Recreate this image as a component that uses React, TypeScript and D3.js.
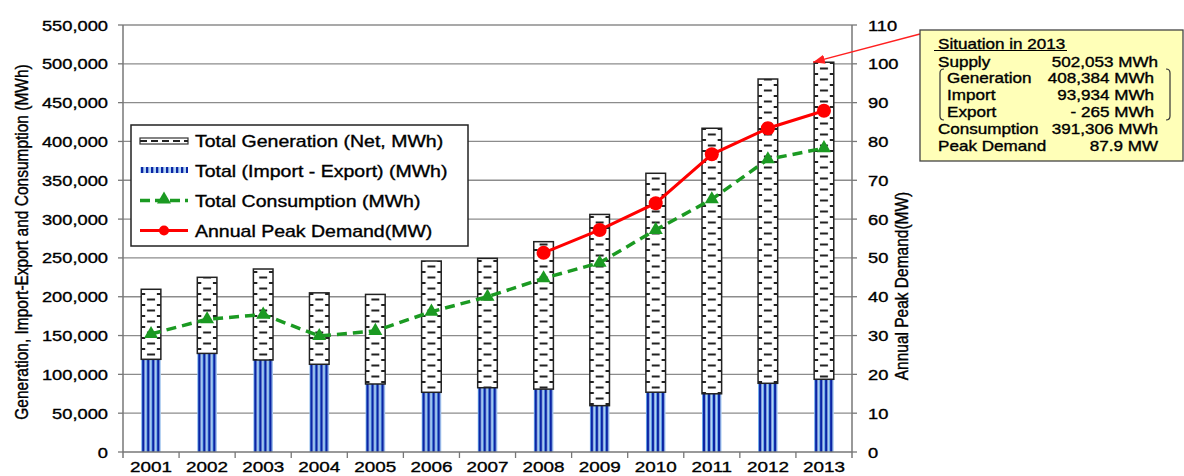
import React from 'react';
import * as d3 from 'd3';

const years = ['2001', '2002', '2003', '2004', '2005', '2006', '2007', '2008', '2009', '2010', '2011', '2012', '2013'];
const importExport = [119400, 127000, 118500, 113000, 87600, 76900, 82800, 81000, 59700, 77000, 75000, 88500, 93669];
const generation = [90200, 98000, 117200, 92000, 115400, 169100, 166600, 189900, 246300, 282000, 342000, 391900, 408384];
const consumption = [152000, 171000, 177000, 149400, 156000, 180700, 200000, 223700, 243800, 286000, 325500, 377000, 391306];
const peakYears = ['2008', '2009', '2010', '2011', '2012', '2013'];
const peakDemand = [51.3, 57.2, 64.1, 76.7, 83.4, 87.9];
const leftTicks = d3.range(0, 550001, 50000);
const rightTicks = d3.range(0, 111, 10);
const legendLabels = ['Total Generation (Net, MWh)', 'Total (Import - Export) (MWh)', 'Total Consumption (MWh)', 'Annual Peak Demand(MW)'];
const noteTitle = 'Situation in 2013';
const noteLabels = ['Supply', 'Generation', 'Import', 'Export', 'Consumption', 'Peak Demand'];
const noteValues = ['502,053 MWh', '408,384 MWh', '93,934 MWh', '- 265 MWh', '391,306 MWh', '87.9 MW'];
const noteIndented = [false, true, true, true, false, false];

const FONT = '"Liberation Sans", Arial, sans-serif';
const SX = 1.22;
const TS = 0.35;

const L = 123, R = 852, T = 25, B = 452;

const x = d3.scaleBand<string>().domain(years).range([L, R]).paddingInner(0.65).paddingOuter(0.325);
const step = x.step();
const y = d3.scaleLinear().domain([0, 550000]).range([B, T]);
const y2 = d3.scaleLinear().domain([0, 110]).range([B, T]);
const fmt = d3.format(',');

const ST = ({ tx, ty, size, anchor = 'start', children }: any) => (
  <text
    transform={`translate(${tx},${ty}) scale(${SX},1)`}
    fontSize={size}
    textAnchor={anchor}
    fontFamily={FONT}
    fill="#000"
    stroke="#000"
    strokeWidth={TS}
  >
    {children}
  </text>
);

export default function App() {
  const bw = x.bandwidth();
  const cx = (yr: string) => (x(yr) as number) + bw / 2;
  const totals = years.map((_, i) => importExport[i] + generation[i]);

  const consLine = d3.line<number>().x((_, i) => cx(years[i])).y((d) => y(d))(consumption) as string;
  const peakLine = d3.line<number>().x((_, i) => cx(peakYears[i])).y((d) => y2(d))(peakDemand) as string;

  const tri = d3.symbol().type(d3.symbolTriangle).size(85)() as string;

  const arrowEnd = { x: (x('2013') as number) - 1, y: y(totals[12]) };
  const boxX = 920, boxY = 30, boxW = 263, boxH = 131;

  const legX = 131, legY = 125, legW = 337, legH = 121;
  const legRows = [146.5, 177, 206.5, 236.5];
  const swX0 = 140, swX1 = 188;

  return (
    <svg width={1184} height={476} style={{ position: 'absolute', left: 0, top: 0, background: '#fff' }}>
      <defs>
        {years.map((yr, i) => (
          <pattern key={'g' + yr} id={'gen' + i} patternUnits="userSpaceOnUse" x={x(yr)} y={0} width={bw} height={11}>
            <rect width={bw} height={11} fill="#fff" />
            <rect x={bw / 2 - 4} y={1.5} width={8} height={2} fill="#222" />
            <rect x={0} y={7} width={4} height={2} fill="#222" />
            <rect x={bw - 4} y={7} width={4} height={2} fill="#222" />
          </pattern>
        ))}
        {years.map((yr, i) => (
          <pattern key={'b' + yr} id={'blu' + i} patternUnits="userSpaceOnUse" x={x(yr)} y={0} width={5} height={10}>
            <rect width={5} height={10} fill="#B5D6F5" />
            <rect x={0} width={0.9} height={10} fill="#5FA0E6" />
            <rect x={1} width={2.3} height={10} fill="#0B25A5" />
          </pattern>
        ))}
        <pattern id="bluLeg" patternUnits="userSpaceOnUse" x={swX0} y={0} width={5} height={10}>
          <rect width={5} height={10} fill="#B5D6F5" />
          <rect x={1} width={2.3} height={10} fill="#0B25A5" />
        </pattern>
        <marker id="arr" viewBox="0 0 10 10" refX={10} refY={5} markerWidth={9} markerHeight={9} orient="auto">
          <path d="M0,1 L10,5 L0,9 Z" fill="#ff2020" />
        </marker>
      </defs>

      {/* gridlines */}
      {leftTicks.filter((t) => t > 0).map((t) => (
        <line key={'gl' + t} x1={L} x2={R} y1={y(t)} y2={y(t)} stroke="#8c8c8c" strokeWidth={1.3} />
      ))}

      {/* bars */}
      {years.map((yr, i) => (
        <g key={'bar' + yr}>
          <rect x={x(yr)} y={y(importExport[i])} width={bw} height={y(0) - y(importExport[i])} fill={`url(#blu${i})`} />
          <rect
            x={x(yr)}
            y={y(totals[i])}
            width={bw}
            height={y(importExport[i]) - y(totals[i])}
            fill={`url(#gen${i})`}
            stroke="#222"
            strokeWidth={1.5}
          />
        </g>
      ))}

      {/* consumption */}
      <path d={consLine} fill="none" stroke="#1B9A22" strokeWidth={3.5} strokeDasharray="10,6" />
      {consumption.map((v, i) => (
        <path key={'tri' + i} d={tri} transform={`translate(${cx(years[i])},${y(v)})`} fill="#1B9A22" />
      ))}

      {/* peak demand */}
      <path d={peakLine} fill="none" stroke="#ff0000" strokeWidth={3} />
      {peakDemand.map((v, i) => (
        <circle key={'pk' + i} cx={cx(peakYears[i])} cy={y2(v)} r={7} fill="#ff0000" />
      ))}

      {/* left axis */}
      <line x1={L} x2={L} y1={T} y2={B + 6} stroke="#777" strokeWidth={1.5} />
      {leftTicks.map((t) => (
        <g key={'lt' + t}>
          <line x1={L - 5} x2={L} y1={y(t)} y2={y(t)} stroke="#777" strokeWidth={1.3} />
          <ST tx={108} ty={y(t) + 5.5} size={15} anchor="end">{fmt(t)}</ST>
        </g>
      ))}
      {/* right axis */}
      <line x1={R} x2={R} y1={T} y2={B + 6} stroke="#777" strokeWidth={1.5} />
      {rightTicks.map((t) => (
        <g key={'rt' + t}>
          <line x1={R} x2={R + 5} y1={y2(t)} y2={y2(t)} stroke="#777" strokeWidth={1.3} />
          <ST tx={868} ty={y2(t) + 5.5} size={15} anchor="start">{t}</ST>
        </g>
      ))}
      {/* x axis */}
      <line x1={L} x2={R} y1={B} y2={B} stroke="#777" strokeWidth={1.5} />
      {years.slice(1).map((yr) => (
        <line key={'xt' + yr} x1={(x(yr) as number) - (step - bw) / 2} x2={(x(yr) as number) - (step - bw) / 2} y1={B} y2={B + 6} stroke="#777" strokeWidth={1.3} />
      ))}
      {years.map((yr) => (
        <ST key={'xl' + yr} tx={cx(yr)} ty={472} size={15.5} anchor="middle">{yr}</ST>
      ))}

      {/* axis titles */}
      <text
        transform={`translate(28,242) rotate(-90) scale(1,1.15)`}
        fontSize={15.5}
        textAnchor="middle"
        fontFamily={FONT}
        stroke="#000"
        strokeWidth={TS}
      >
        Generation, Import-Export and Consumption (MWh)
      </text>
      <text
        transform={`translate(908,286) rotate(-90) scale(1,1.15)`}
        fontSize={15.5}
        textAnchor="middle"
        fontFamily={FONT}
        stroke="#000"
        strokeWidth={TS}
      >
        Annual Peak Demand(MW)
      </text>

      {/* legend */}
      <rect x={legX} y={legY} width={legW} height={legH} fill="#fff" stroke="#222" strokeWidth={1.5} />
      <rect x={swX0} y={legRows[0] - 8.5} width={swX1 - swX0} height={6} fill="#fff" stroke="#333" strokeWidth={1.2} />
      <line x1={swX0} x2={swX1} y1={legRows[0] - 5.5} y2={legRows[0] - 5.5} stroke="#222" strokeWidth={1.8} strokeDasharray="7,4" />
      <rect x={swX0} y={legRows[1] - 10} width={swX1 - swX0} height={6} fill="url(#bluLeg)" />
      <line x1={swX0} x2={swX1} y1={legRows[2] - 6} y2={legRows[2] - 6} stroke="#1B9A22" strokeWidth={3.5} strokeDasharray="10,5" />
      <path d={tri} transform={`translate(${(swX0 + swX1) / 2},${legRows[2] - 7})`} fill="#1B9A22" />
      <line x1={swX0} x2={swX1} y1={legRows[3] - 6} y2={legRows[3] - 6} stroke="#ff0000" strokeWidth={3} />
      <circle cx={(swX0 + swX1) / 2} cy={legRows[3] - 6} r={5} fill="#ff0000" />
      {legendLabels.map((lab, i) => (
        <ST key={'lg' + i} tx={195} ty={legRows[i]} size={16}>{lab}</ST>
      ))}

      {/* annotation */}
      <line x1={boxX} y1={boxY + 4} x2={arrowEnd.x} y2={arrowEnd.y} stroke="#ff2020" strokeWidth={1.3} markerEnd="url(#arr)" />
      <rect x={boxX} y={boxY} width={boxW} height={boxH} fill="#FFFFB8" stroke="#444" strokeWidth={1.3} />
      <ST tx={938} ty={49} size={14}>{noteTitle}</ST>
      <line x1={934} x2={1067} y1={50.5} y2={50.5} stroke="#000" strokeWidth={1} />
      {noteLabels.map((lab, i) => {
        const by = 66.5 + i * 16.8;
        return (
          <g key={'nt' + i}>
            <ST tx={noteIndented[i] ? 947 : 938} ty={by} size={14}>{lab}</ST>
            <ST tx={noteIndented[i] ? 1154 : 1158} ty={by} size={14} anchor="end">{noteValues[i]}</ST>
          </g>
        );
      })}
      <path d="M944,69 Q940,69 940,73 L940,116 Q940,120 944,120" fill="none" stroke="#333" strokeWidth={1.2} />
      <path d="M1166,69 Q1170,69 1170,73 L1170,116 Q1170,120 1166,120" fill="none" stroke="#333" strokeWidth={1.2} />
    </svg>
  );
}
